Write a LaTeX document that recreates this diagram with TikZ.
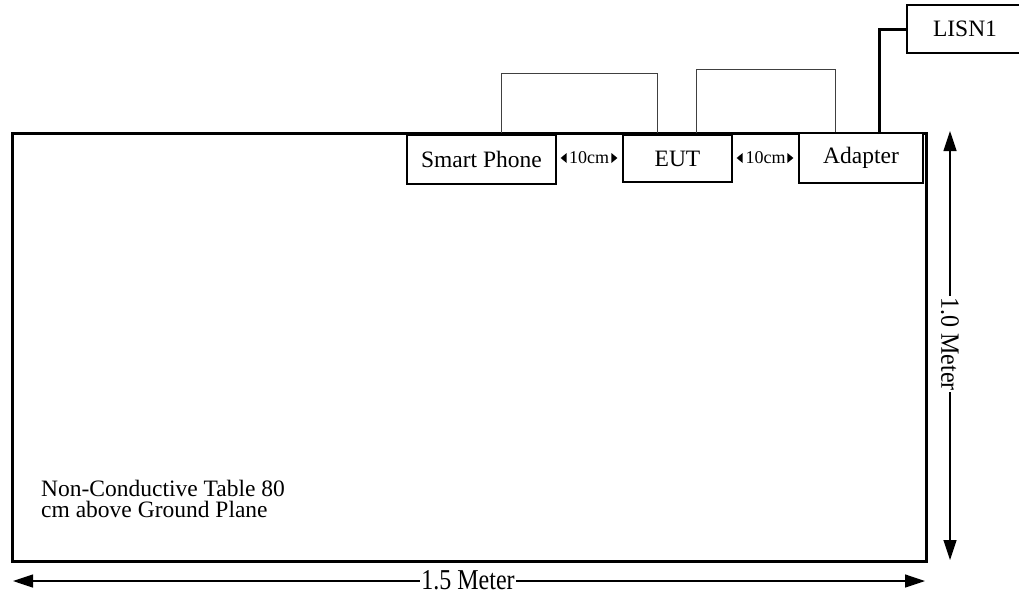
\documentclass[tikz,border=0pt]{standalone}
\usepackage{fontspec}
\setmainfont{Liberation Serif}
\usetikzlibrary{arrows.meta}
\begin{document}
\begin{tikzpicture}[x=1pt,y=-1pt,
  box/.style={draw, line width=1.3pt, fill=white, inner sep=0pt, font=\fontsize{23.5}{26}\selectfont},
  tablebox/.style={draw, line width=3pt, inner sep=0pt},
  loopcable/.style={draw=black!75, line width=1pt},
  powercable/.style={draw, line width=3pt},
  dim/.style={line width=1.3pt, {Triangle[length=20pt,width=13pt]}-{Triangle[length=20pt,width=13pt]}},
  dimlabel/.style={fill=white, inner xsep=1pt, inner ysep=0pt, font=\fontsize{24}{26}\selectfont},
  gaplabel/.style={inner xsep=1pt, inner ysep=0pt, font=\fontsize{18}{20}\selectfont},
  gaptip/.style={fill=black}
]
\useasboundingbox (0,0) rectangle (1019,595);
\begin{scope}
\clip (0,0) rectangle (1019,595);
% table
\node[tablebox, minimum width=914pt, minimum height=428pt] (table) at (469,347) {};
\node[anchor=base west, align=left, inner sep=0pt, font=\fontsize{23.5}{21}\selectfont] (tabletext) at (41,517) {Non-Conductive Table 80\\cm above Ground Plane};
% cable loops
\coordinate (l1a) at (501,133);
\coordinate (l1b) at (657,133);
\draw[loopcable] (l1a) -- ++(0,-60) -| (l1b);
\coordinate (l2a) at (696,133);
\coordinate (l2b) at (835,133);
\draw[loopcable] (l2a) -- ++(0,-64) -| (l2b);
% boxes
\node[box, minimum width=149pt, minimum height=49pt] (smart) at (481.5,159.5) {Smart Phone};
\node[box, minimum width=109pt, minimum height=47pt] (eut) at (677.5,158.5) {EUT};
\node[box, minimum width=124pt, minimum height=50pt] (adapter) at (861,158) {Adapter};
\node[box, minimum width=116pt, minimum height=48pt] (lisn) at (965,29) {LISN1};
% power cable
\coordinate (pw) at (879,134);
\draw[powercable] (pw) |- (lisn.west);
% gap labels
\node[gaplabel] (g1) at (589,158) {10cm};
\fill[gaptip] ([xshift=4pt]smart.east |- g1.west) -- ++(6,-5) -- ++(0,10) -- cycle;
\fill[gaptip] ([xshift=-5pt]eut.west |- g1.east) -- ++(-6,-5) -- ++(0,10) -- cycle;
\node[gaplabel] (g2) at (765.5,158) {10cm};
\fill[gaptip] ([xshift=4pt]eut.east |- g2.west) -- ++(6,-5) -- ++(0,10) -- cycle;
\fill[gaptip] ([xshift=-5pt]adapter.west |- g2.east) -- ++(-6,-5) -- ++(0,10) -- cycle;
% dimensions
\coordinate (hl) at (13,581);
\coordinate (hr) at (925,581);
\draw[dim] (hl) -- (hr);
\node[dimlabel] (hlab) at (468,580) {\scalebox{1}[1.2]{1.5 Meter}};
\coordinate (vt) at (950,131);
\coordinate (vb) at (950,560);
\draw[dim] (vt) -- (vb);
\node[dimlabel, rotate=-90] (vlab) at (950,344) {\scalebox{1}[1.1]{1.0 Meter}};
\end{scope}
\end{tikzpicture}
\end{document}
